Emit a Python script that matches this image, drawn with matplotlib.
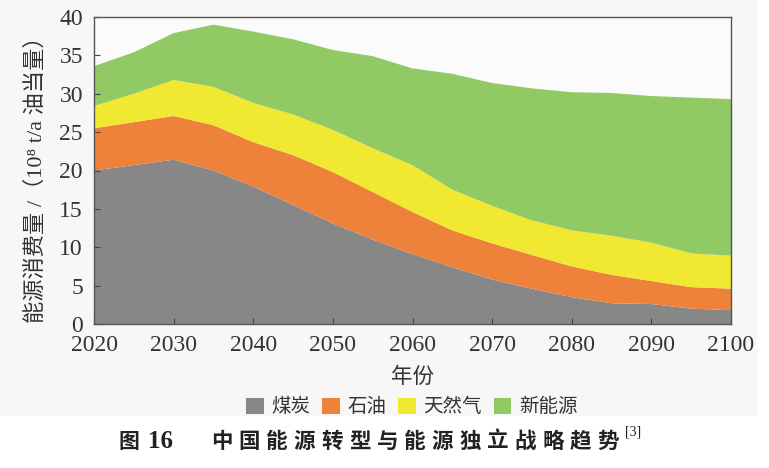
import matplotlib
matplotlib.use('Agg')
import matplotlib.pyplot as plt
import matplotlib.ticker as ticker
from matplotlib.patches import Rectangle

years = [2020, 2025, 2030, 2035, 2040, 2045, 2050, 2055, 2060,
         2065, 2070, 2075, 2080, 2085, 2090, 2095, 2100]
coal = [20.0, 20.7, 21.4, 20.0, 17.9, 15.5, 13.1, 11.0, 9.1,
        7.4, 5.8, 4.6, 3.5, 2.7, 2.6, 2.0, 1.8]
oil = [5.5, 5.6, 5.7, 5.9, 5.8, 6.5, 6.7, 6.2, 5.5,
       4.8, 4.7, 4.4, 4.0, 3.7, 3.0, 2.8, 2.8]
gas = [2.9, 3.7, 4.7, 5.0, 5.1, 5.3, 5.5, 5.7, 6.1,
       5.3, 4.9, 4.5, 4.7, 5.1, 5.0, 4.4, 4.3]
new_energy = [5.2, 5.4, 6.1, 8.1, 9.3, 9.8, 10.4, 12.0, 12.6,
              15.1, 16.0, 17.2, 18.0, 18.6, 19.1, 20.3, 20.4]
labels = ['煤炭', '石油', '天然气', '新能源']
colors = ['#878787', '#ef823a', '#f0e831', '#91c964']

cjk = ['Noto Sans CJK SC', 'DejaVu Sans']
serif_cjk = ['Liberation Serif', 'Noto Sans CJK SC']

fig = plt.figure(figsize=(7.69, 4.68), dpi=100)
fig.patch.set_facecolor('white')
# light grey panel behind the chart
fig.patches.append(Rectangle((0, 1 - 416 / 468), 757 / 769, 416 / 468,
                             transform=fig.transFigure, facecolor='#f7f7f7',
                             edgecolor='none', zorder=-10))

ax = fig.add_axes([94 / 769, 1 - 324 / 468, 637 / 769, 307 / 468])
ax.set_zorder(2)
ax.set_facecolor('#fbfbfb')
ax.stackplot(years, coal, oil, gas, new_energy, labels=labels,
             colors=colors, linewidth=0)

ax.set_xlim(2020, 2100)
ax.set_ylim(0, 40)
ax.xaxis.set_major_locator(ticker.MultipleLocator(10))
ax.yaxis.set_major_locator(ticker.MultipleLocator(5))
ax.tick_params(direction='in', length=4, width=0.8, color='#444444',
               labelsize=17)
ax.tick_params(axis='x', pad=8)
ax.tick_params(axis='y', pad=8)
for lab in ax.get_xticklabels() + ax.get_yticklabels():
    lab.set_family('Liberation Serif')
    lab.set_color('#333333')
for sp in ax.spines.values():
    sp.set_color('#555555')
    sp.set_linewidth(1.0)

fig.text(412 / 769, 1 - 377 / 468, '年份', family=cjk, fontsize=15.5,
         color='#333333', ha='center', va='center')
fig.text(36 / 769, 1 - 174 / 468, '能源消费量 /（10⁸ t/a 油当量）',
         family=serif_cjk, fontsize=16, color='#333333',
         rotation=90, ha='center', va='center')

leg = fig.legend(loc='center', bbox_to_anchor=(412 / 769, 1 - 407 / 468),
                 ncol=4, frameon=False, prop={'family': cjk, 'size': 14},
                 handlelength=0.9, handleheight=0.9, handletextpad=0.4,
                 columnspacing=0.6, borderpad=0.0)
for t in leg.get_texts():
    t.set_color('#333333')

# caption
fig.text(118 / 769, 1 - 441 / 468, '图', family=cjk, fontsize=15,
         weight='bold', ha='left', va='center', color='#222222')
fig.text(148 / 769, 1 - 441 / 468, '16', family='Liberation Serif',
         fontsize=18, weight='bold', ha='left', va='center', color='#222222')
caption = '中国能源转型与能源独立战略趋势'
for i, ch in enumerate(caption):
    fig.text((211 + i * 27.6) / 769, 1 - 441 / 468, ch, family=cjk,
             fontsize=15.5, weight='bold', ha='left', va='center',
             color='#222222')
fig.text(625 / 769, 1 - 432 / 468, '[3]', family='Liberation Serif',
         fontsize=10, ha='left', va='center', color='#222222')

fig.savefig('out.png', dpi=100)
